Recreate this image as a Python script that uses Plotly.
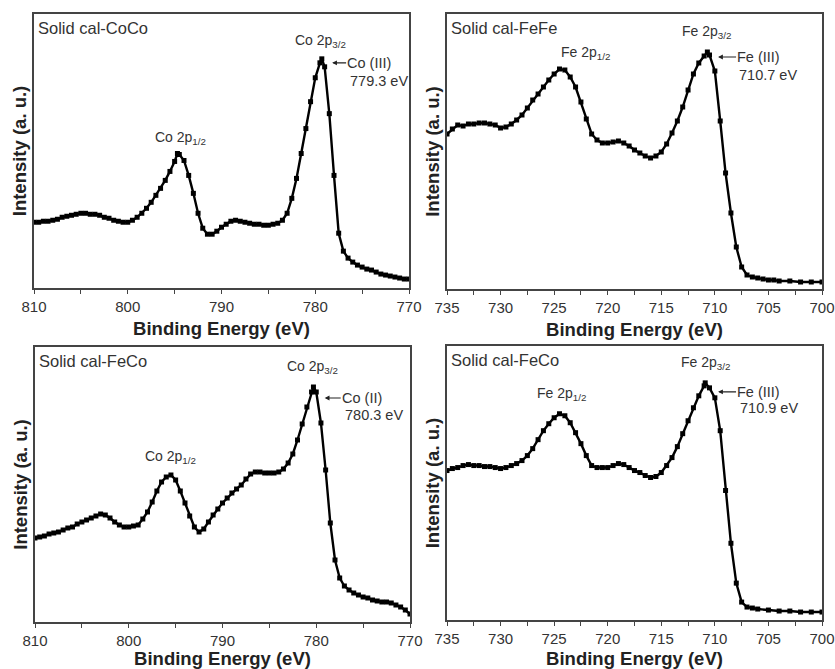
import plotly.graph_objects as go

# ---------------- data (arbitrary intensity units) ----------------
coco_be = [810, 809.5, 809, 808.5, 808, 807.5, 807, 806.5, 806, 805.5, 805, 804.5, 804, 803.5, 803,
           802.5, 802, 801.5, 801, 800.5, 800, 799.5, 799, 798.5, 798, 797.5, 797, 796.5, 796, 795.5,
           795, 794.7, 794.5, 794, 793.5, 793, 792.5, 792, 791.5, 791, 790.5, 790, 789.5, 789, 788.5,
           788, 787.5, 787, 786.5, 786, 785.5, 785, 784.5, 784, 783.5, 783, 782.5, 782, 781.5, 781,
           780.5, 780, 779.5, 779.3, 779, 778.5, 778, 777.5, 777, 776.5, 776, 775.5, 775, 774.5, 774,
           773.5, 773, 772.5, 772, 771.5, 771, 770.5, 770]
coco_int = [66, 66, 67, 67, 68, 69, 71, 72, 73, 74, 75, 75, 74, 74, 73,
            71, 70, 68, 67, 66, 66, 68, 71, 75, 80, 86, 93, 100, 108, 117,
            127, 135, 134, 128, 113, 95, 75, 60, 54, 54, 57, 61, 64, 67, 68,
            67, 66, 65, 64, 64, 63, 63, 64, 65, 68, 75, 90, 110, 135, 160,
            187, 211, 226, 230, 222, 175, 113, 55, 37, 30, 26, 23, 21, 19, 18,
            16, 14, 13, 12, 11, 10, 9, 9]

fefe_be = [735, 734.5, 734, 733.5, 733, 732.5, 732, 731.5, 731, 730.5, 730, 729.5, 729, 728.5, 728,
           727.5, 727, 726.5, 726, 725.5, 725, 724.5, 724, 723.5, 723, 722.5, 722, 721.5, 721, 720.5,
           720, 719.5, 719, 718.5, 718, 717.5, 717, 716.5, 716, 715.5, 715, 714.5, 714, 713.5, 713,
           712.5, 712, 711.5, 711, 710.7, 710.5, 710, 709.5, 709, 708.5, 708, 707.5, 707, 706.5, 706,
           705.5, 705, 704.5, 704, 703, 702, 701, 700]
fefe_int = [155, 160, 164, 163, 165, 165, 166, 166, 165, 164, 161, 162, 165, 169, 174,
            181, 189, 195, 202, 209, 215, 220, 219, 212, 202, 187, 170, 155, 149, 146,
            146, 147, 148, 146, 143, 139, 136, 133, 131, 133, 137, 145, 156, 168, 182,
            199, 215, 226, 233, 237, 234, 218, 168, 116, 76, 42, 22, 14, 12, 11,
            10, 9, 9, 8, 8, 7, 7, 7]

feco_co_be = [810, 809.5, 809, 808.5, 808, 807.5, 807, 806.5, 806, 805.5, 805, 804.5, 804, 803.5, 803,
              802.5, 802, 801.5, 801, 800.5, 800, 799.5, 799, 798.5, 798, 797.5, 797, 796.5, 796, 795.5,
              795, 794.5, 794, 793.5, 793, 792.5, 792, 791.5, 791, 790.5, 790, 789.5, 789, 788.5, 788,
              787.5, 787, 786.5, 786, 785.5, 785, 784.5, 784, 783.5, 783, 782.5, 782, 781.5, 781, 780.5,
              780.3, 780, 779.5, 779, 778.5, 778, 777.5, 777, 776.5, 776, 775.5, 775, 774.5, 774, 773.5,
              773, 772.5, 772, 771.5, 771, 770.5, 770]
feco_co_int = [84, 85, 86, 88, 89, 90, 92, 94, 95, 98, 100, 102, 104, 106, 108,
               107, 104, 100, 97, 95, 95, 96, 97, 103, 110, 120, 131, 140, 145, 147,
               142, 131, 119, 106, 95, 90, 93, 100, 107, 113, 119, 124, 129, 133, 137,
               143, 148, 150, 150, 149, 149, 149, 150, 153, 159, 168, 182, 198, 215, 230,
               235, 230, 199, 152, 99, 62, 44, 36, 32, 29, 27, 25, 24, 22, 21,
               20, 20, 19, 17, 15, 12, 8]

feco_fe_be = [735, 734.5, 734, 733.5, 733, 732.5, 732, 731.5, 731, 730.5, 730, 729.5, 729, 728.5, 728,
              727.5, 727, 726.5, 726, 725.5, 725, 724.5, 724, 723.5, 723, 722.5, 722, 721.5, 721, 720.5,
              720, 719.5, 719, 718.5, 718, 717.5, 717, 716.5, 716, 715.5, 715, 714.5, 714, 713.5, 713,
              712.5, 712, 711.5, 711, 710.9, 710.5, 710, 709.5, 709, 708.5, 708, 707.5, 707, 706.5, 706,
              705, 704, 703, 702, 701, 700]
feco_fe_int = [150, 152, 153, 155, 156, 155, 155, 154, 154, 153, 152, 153, 155, 157, 160,
               165, 172, 181, 190, 197, 203, 207, 205, 198, 188, 177, 165, 155, 153, 153,
               153, 155, 157, 156, 153, 150, 148, 145, 143, 144, 148, 155, 163, 174, 187,
               200, 213, 225, 235, 238, 233, 223, 190, 130, 77, 37, 18, 13, 12, 11,
               10, 9, 9, 8, 8, 8]

panel_labels = ["Solid cal-CoCo", "Solid cal-FeFe", "Solid cal-FeCo", "Solid cal-FeCo"]
x_title = "Binding Energy (eV)"
y_title = "Intensity (a. u.)"

# ---------------- figure ----------------
W, H = 835, 669
FONT = "Liberation Sans, Arial, sans-serif"
TXT = "#333333"

fig = go.Figure()

series = [(coco_be, coco_int), (fefe_be, fefe_int), (feco_co_be, feco_co_int), (feco_fe_be, feco_fe_int)]
for i, (xs, ys) in enumerate(series):
    sfx = "" if i == 0 else str(i + 1)
    fig.add_trace(go.Scatter(
        x=xs, y=ys, mode="lines+markers", xaxis="x" + sfx, yaxis="y" + sfx,
        line=dict(color="black", width=2.4),
        marker=dict(symbol="square", size=5, color="black"),
        showlegend=False, hoverinfo="x+y"))

# panel pixel boxes: (left, right, top, bottom)
boxes = [(34, 409, 14, 288), (447, 822, 14, 289), (35, 410, 347, 622), (447, 822, 346, 620)]
xranges = [[810, 770], [735, 700], [810, 770], [735, 700]]
dticks = [10, 5, 10, 5]
minor_dt = [5, 2.5, 5, 2.5]

layout = dict(width=W, height=H, margin=dict(l=0, r=0, t=0, b=0),
              paper_bgcolor="white", plot_bgcolor="white",
              font=dict(family=FONT, color=TXT, size=15), template="none")

for i, (l, r, t, b) in enumerate(boxes):
    sfx = "" if i == 0 else str(i + 1)
    layout["xaxis" + sfx] = dict(
        domain=[l / W, r / W], anchor="y" + sfx, range=xranges[i], autorange=False,
        dtick=dticks[i], tick0=700, ticks="outside", ticklen=4, tickwidth=1.3, tickcolor="#444",
        minor=dict(dtick=minor_dt[i], tick0=700, ticks="outside", ticklen=4, tickwidth=1.3, tickcolor="#444"),
        showline=True, mirror=True, linecolor="#444", linewidth=1.5,
        showgrid=False, zeroline=False, automargin=False,
        tickfont=dict(family=FONT, size=15, color=TXT),
        title=dict(text="<b>" + x_title + "</b>", standoff=8,
                   font=dict(family=FONT, size=18.5, color="#222")))
    layout["yaxis" + sfx] = dict(
        domain=[1 - b / H, 1 - t / H], anchor="x" + sfx, range=[0, 275], autorange=False,
        showticklabels=False, ticks="", showline=True, mirror=True, linecolor="#444", linewidth=1.5,
        showgrid=False, zeroline=False, automargin=False,
        title=dict(text="<b>" + y_title + "</b>", standoff=1,
                   font=dict(family=FONT, size=18.5, color="#222")))

fig.update_layout(**layout)

ann = []
def txt(sfx, x, y, text, xanchor="center", size=14):
    ann.append(dict(xref="x" + sfx, yref="y" + sfx, x=x, y=y, text=text, showarrow=False,
                    xanchor=xanchor, yanchor="middle", font=dict(family=FONT, size=size, color=TXT)))

def arrow_txt(sfx, x, y, ax, text):
    ann.append(dict(xref="x" + sfx, yref="y" + sfx, x=x, y=y, text=text, showarrow=True,
                    ax=ax, ay=0, xanchor="left", yanchor="middle", borderpad=0,
                    arrowhead=2, arrowsize=0.8, arrowwidth=1.2, arrowcolor="#222",
                    font=dict(family=FONT, size=14.5, color=TXT)))

# panel labels
for i, lab in enumerate(panel_labels):
    sfx = "" if i == 0 else str(i + 1)
    ann.append(dict(xref="x" + sfx + " domain", yref="y" + sfx + " domain", x=0.004, y=0.95,
                    text=lab, showarrow=False, xanchor="left", yanchor="middle",
                    font=dict(family=FONT, size=16.5, color=TXT)))

# panel 1
txt("", 779.4, 248, "Co 2p<sub>3/2</sub>")
txt("", 794.4, 151, "Co 2p<sub>1/2</sub>")
arrow_txt("", 778.2, 226, 14, "Co (III)")
txt("", 776.5, 208, "779.3 eV", "left", 14.5)
# panel 2
txt("2", 710.8, 257, "Fe 2p<sub>3/2</sub>")
txt("2", 722.1, 236, "Fe 2p<sub>1/2</sub>")
arrow_txt("2", 709.7, 232, 18, "Fe (III)")
txt("2", 707.9, 214, "710.7 eV", "left", 14.5)
# panel 3
txt("3", 780.35, 255, "Co 2p<sub>3/2</sub>")
txt("3", 795.6, 165, "Co 2p<sub>1/2</sub>")
arrow_txt("3", 779.1, 224, 16, "Co (II)")
txt("3", 777.2, 207, "780.3 eV", "left", 14.5)
# panel 4
txt("4", 710.9, 258, "Fe 2p<sub>3/2</sub>")
txt("4", 724.3, 227, "Fe 2p<sub>1/2</sub>")
arrow_txt("4", 709.7, 229, 18, "Fe (III)")
txt("4", 707.8, 213, "710.9 eV", "left", 14.5)

fig.update_layout(annotations=ann)
fig.write_html("out.html")
